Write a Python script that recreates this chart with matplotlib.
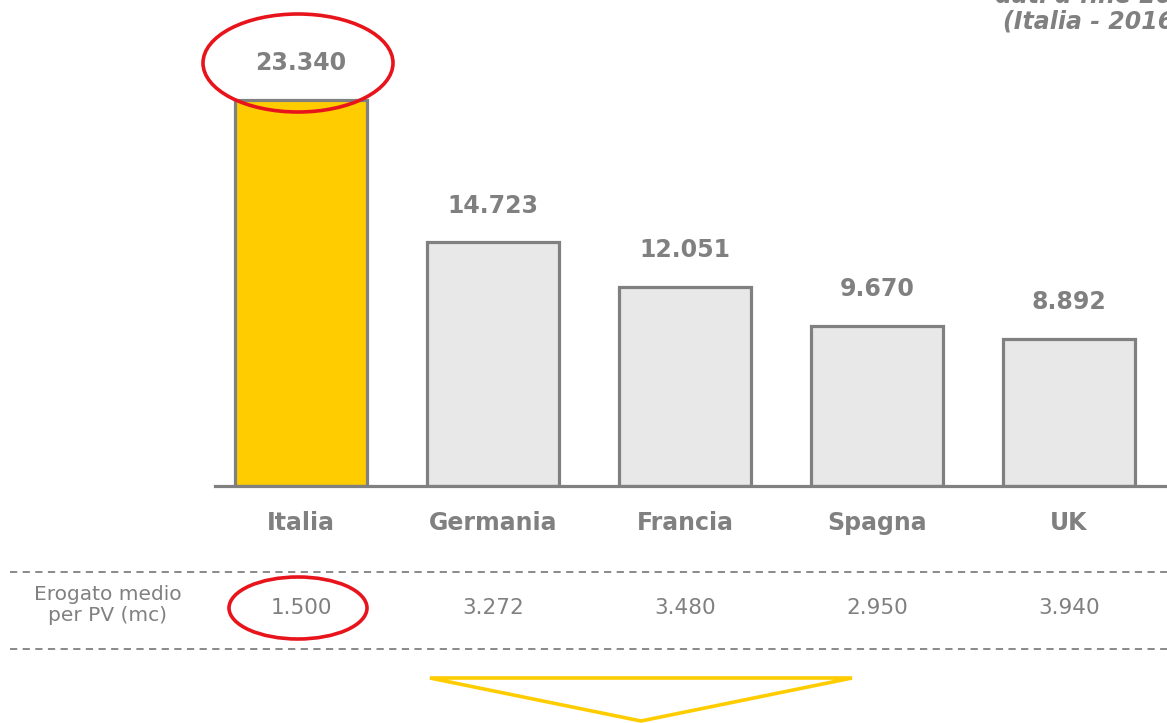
import matplotlib.pyplot as plt
import matplotlib.transforms as mtransforms
from matplotlib.patches import Ellipse, Polygon

# data
countries = ["Italia", "Germania", "Francia", "Spagna", "UK"]
impianti = [23340, 14723, 12051, 9670, 8892]
erogato = [1500, 3272, 3480, 2950, 3940]


def fmt_it(v):
    return f"{v:,}".replace(",", ".")


GRAY = "#808080"
YELLOW = "#FFCC00"
LIGHT = "#E8E8E8"

W, H = 1167, 723
fig = plt.figure(figsize=(W / 100, H / 100), dpi=100)

# bar axes: baseline at y=486px, spans x 215..1167px
ax = fig.add_axes([215 / W, (H - 486) / H, (W - 215) / W, 486 / H])
xs = list(range(len(countries)))
colors = [YELLOW] + [LIGHT] * (len(countries) - 1)
ax.bar(xs, impianti, width=0.6875, color=colors, edgecolor=GRAY, linewidth=2.3, zorder=2)
ax.set_xlim(-0.448, 4.51)
ax.set_ylim(0, 29366)
for s in ["top", "right", "left"]:
    ax.spines[s].set_visible(False)
ax.spines["bottom"].set_color(GRAY)
ax.spines["bottom"].set_linewidth(2.3)
ax.spines["bottom"].set_zorder(3)
ax.set_yticks([])
ax.set_xticks(xs)
ax.set_xticklabels(countries, fontsize=17, fontweight="bold", color=GRAY)
ax.tick_params(axis="x", length=0, pad=18)

for x, v in zip(xs, impianti):
    ax.annotate(fmt_it(v), (x, v), xytext=(0, 26.5), textcoords="offset points",
                ha="center", va="center", fontsize=17, fontweight="bold", color=GRAY)

# overlay in pixel coordinates
ov = fig.add_axes([0, 0, 1, 1], facecolor="none")
ov.set_xlim(0, W)
ov.set_ylim(H, 0)
ov.axis("off")

for yy in [572, 649]:
    ov.plot([10, W], [yy, yy], color=GRAY, linestyle=(0, (4, 3)), linewidth=1.3)

ov.text(108, 605, "Erogato medio\nper PV (mc)", ha="center", va="center",
        fontsize=14.5, color=GRAY, linespacing=1.1)

blend = mtransforms.blended_transform_factory(ax.transData, ov.transData)
for x, v in zip(xs, erogato):
    ov.text(x, 608, fmt_it(v), transform=blend, ha="center", va="center",
            fontsize=15.5, color=GRAY)

# highlight ellipses
ov.add_patch(Ellipse((298, 63), 190, 98, fill=False, edgecolor="#E8141B", linewidth=2.6))
ov.add_patch(Ellipse((298, 608), 138, 62, fill=False, edgecolor="#E8141B", linewidth=2.6))

# arrow triangle
ov.add_patch(Polygon([(430, 678), (852, 678), (641, 721)], closed=True, fill=False,
                     edgecolor=YELLOW, linewidth=2.6, joinstyle="miter"))

# cut-off note in top-right (the reference crops it at the figure edge)
ov.text(995, -4, "dati a fine 2016", ha="left", va="center", fontsize=17,
        fontweight="bold", fontstyle="italic", color=GRAY)
ov.text(1003, 22, "(Italia - 2016)", ha="left", va="center", fontsize=17,
        fontweight="bold", fontstyle="italic", color=GRAY)

fig.savefig("out.png", dpi=100)
